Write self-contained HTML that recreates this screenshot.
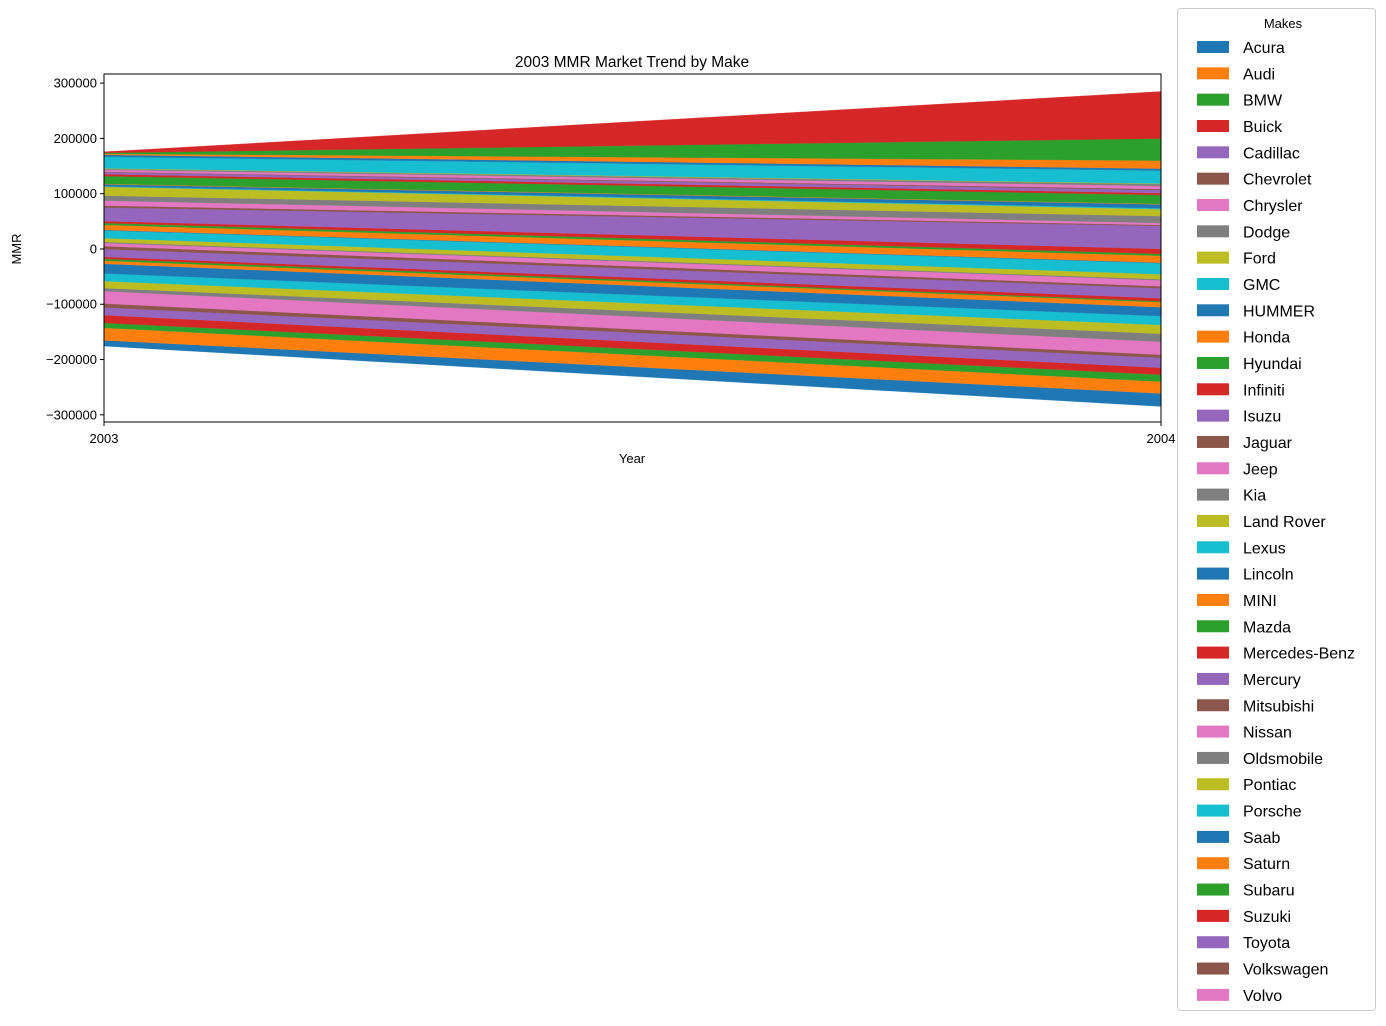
<!DOCTYPE html>
<html><head><meta charset="utf-8"><style>
body{margin:0;background:#fff;font-family:"Liberation Sans","DejaVu Sans",sans-serif}
svg text{font-family:"Liberation Sans","DejaVu Sans",sans-serif}
</style></head><body>
<svg id="chart" width="1386" height="1021" xmlns="http://www.w3.org/2000/svg">
<rect width="1386" height="1021" fill="#fff"/>
<g id="layers"></g>
<g id="axes"></g>
<g id="legend"></g>
</svg>
<script>
const years = ["2003","2004"];
const legendMakes = ["Acura","Audi","BMW","Buick","Cadillac","Chevrolet","Chrysler","Dodge","Ford","GMC","HUMMER","Honda","Hyundai","Infiniti","Isuzu","Jaguar","Jeep","Kia","Land Rover","Lexus","Lincoln","MINI","Mazda","Mercedes-Benz","Mercury","Mitsubishi","Nissan","Oldsmobile","Pontiac","Porsche","Saab","Saturn","Subaru","Suzuki","Toyota","Volkswagen","Volvo"];
const extraMakes = ["Make 38","Make 39","Make 40","Make 41","Make 42","Make 43","Make 44"];
const values2003 = [10500,22500,9000,14000,14000,7000,22500,5500,12500,14000,17500,5500,3500,3500,14000,5500,5500,1800,7000,14000,900,9000,3500,3500,24500,3500,9000,9000,16000,900,3500,900,14000,3500,3500,900,3500,1800,900,21000,3500,1800,1800,1800];
const values2004 = [23500,21500,12500,12500,18000,5500,23500,14500,16000,16000,16000,9000,1800,5500,18000,3500,11000,1800,9000,20000,900,12500,3500,9000,41500,1800,3500,12500,12500,1800,7000,900,16000,3500,5500,1800,5500,3500,900,23500,3500,14500,40000,85000];
const yTicks = [300000,200000,100000,0,-100000,-200000,-300000];
const tickLabels = ["300000","200000","100000","0","−100000","−200000","−300000"];
const colors = ["#1f77b4","#ff7f0e","#2ca02c","#d62728","#9467bd","#8c564b","#e377c2","#7f7f7f","#bcbd22","#17becf"];
const allMakes = legendMakes.concat(extraMakes);
const NS="http://www.w3.org/2000/svg";
const PX0=104,PX1=1161,PY0=74,PY1=422, YMIN=-313000,YMAX=316500;
function xs(i){return PX0+(PX1-PX0)*i/(years.length-1);}
function ys(v){return PY1-(v-YMIN)/(YMAX-YMIN)*(PY1-PY0);}
function mk(tag,attrs,parent){const e=document.createElementNS(NS,tag);for(const k in attrs)e.setAttribute(k,attrs[k]);parent.appendChild(e);return e;}
const series=[values2003,values2004];
const base=series.map(s=>-s.reduce((a,b)=>a+b,0)/2);
const layersG=document.getElementById('layers');
let cum=base.slice();
for(let k=0;k<allMakes.length;k++){
  const lo=cum.slice(), hi=cum.map((c,i)=>c+series[i][k]);
  let d="M"+xs(0)+","+ys(lo[0]);
  for(let i=0;i<years.length;i++) d+=" L"+xs(i)+","+ys(hi[i]);
  for(let i=years.length-1;i>=0;i--) d+=" L"+xs(i)+","+ys(lo[i]);
  d+="Z";
  const p=mk('path',{d:d,fill:colors[k%10],stroke:colors[k%10],'stroke-width':0.3},layersG);
  
  
  cum=hi;
}
const ax=document.getElementById('axes');
const fr=mk('rect',{x:PX0,y:PY0,width:PX1-PX0,height:PY1-PY0,fill:'none',stroke:'#000','stroke-width':1},ax);


yTicks.forEach((t,i)=>{
  const y=ys(t);
  mk('line',{x1:PX0-4,x2:PX0,y1:y,y2:y,stroke:'#000'},ax);
  const tx=mk('text',{x:PX0-7,y:y+4.5,'text-anchor':'end','font-size':13},ax);
  tx.textContent=tickLabels[i];
  
  
});
years.forEach((yr,i)=>{
  const x=xs(i);
  mk('line',{x1:x,x2:x,y1:PY1,y2:PY1+4,stroke:'#000'},ax);
  const tx=mk('text',{x:x,y:PY1+21,'text-anchor':'middle','font-size':13},ax);
  tx.textContent=yr;
  
  
});
let t=mk('text',{x:632,y:67,'text-anchor':'middle','font-size':15.5},ax);t.textContent="2003 MMR Market Trend by Make";


t=mk('text',{x:632,y:463,'text-anchor':'middle','font-size':13},ax);t.textContent="Year";


t=mk('text',{x:21,y:249,'text-anchor':'middle','font-size':13,transform:'rotate(-90 21 249)'},ax);t.textContent="MMR";


const lg=document.getElementById('legend');
const lb=mk('rect',{x:1177.5,y:8.5,width:198,height:1002,rx:3,fill:'#fff',stroke:'#ccc'},lg);


t=mk('text',{x:1283,y:28,'text-anchor':'middle','font-size':13},lg);t.textContent="Makes";


legendMakes.forEach((m,i)=>{
  const y=47+i*26.33;
  const g=mk('g',{},lg);
  
  
  mk('rect',{x:1197,y:y-6,width:32,height:12,fill:colors[i%10]},g);
  const tx=mk('text',{x:1243,y:y+6,'font-size':16},g);tx.textContent=m;
});
</script>
</body></html>
